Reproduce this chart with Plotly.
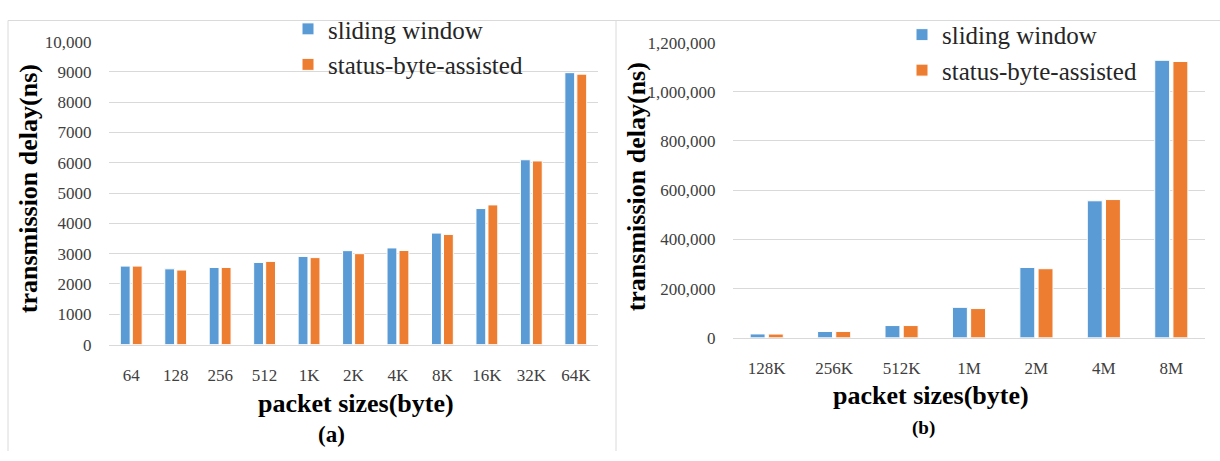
import plotly.graph_objects as go

# ---------------- data ----------------
cats_a = ["64", "128", "256", "512", "1K", "2K", "4K", "8K", "16K", "32K", "64K"]
sliding_a = [2590, 2500, 2545, 2710, 2910, 3100, 3190, 3680, 4490, 6100, 8975]
status_a = [2590, 2460, 2545, 2745, 2870, 3000, 3105, 3635, 4610, 6060, 8925]
yticks_a = [0, 1000, 2000, 3000, 4000, 5000, 6000, 7000, 8000, 9000, 10000]
yticktext_a = ["0", "1000", "2000", "3000", "4000", "5000", "6000", "7000", "8000", "9000", "10,000"]

cats_b = ["128K", "256K", "512K", "1M", "2M", "4M", "8M"]
sliding_b = [16000, 26000, 50000, 124000, 286000, 557000, 1128000]
status_b = [15500, 26000, 50000, 119000, 281000, 562000, 1123000]
yticks_b = [0, 200000, 400000, 600000, 800000, 1000000, 1200000]
yticktext_b = ["0", "200,000", "400,000", "600,000", "800,000", "1,000,000", "1,200,000"]

series_names = ["sliding window", "status-byte-assisted"]
colors = ["#5B9BD5", "#ED7D31"]

W, H = 1220, 461
FONT = "Liberation Serif"

def px(x):
    return x / W

def py(y):
    return 1 - y / H

fig = go.Figure()

for name, vals, col in zip(series_names, [sliding_a, status_a], colors):
    fig.add_trace(go.Bar(x=cats_a, y=vals, name=name, marker=dict(color=col, line=dict(color="white", width=1)),
                         xaxis="x", yaxis="y", legend="legend"))
for name, vals, col in zip(series_names, [sliding_b, status_b], colors):
    fig.add_trace(go.Bar(x=cats_b, y=vals, name=name, marker=dict(color=col, line=dict(color="white", width=1)),
                         xaxis="x2", yaxis="y2", legend="legend2"))

tickfont = dict(family=FONT, size=17, color="#404040")
grid = "#D9D9D9"

common_x = dict(type="category", showgrid=False, showline=True, linecolor=grid, linewidth=1,
                ticks="outside", ticklen=15, tickcolor="rgba(0,0,0,0)", tickfont=tickfont, zeroline=False)
common_y = dict(showgrid=True, gridcolor=grid, gridwidth=1, zeroline=False, showline=False,
                ticks="outside", ticklen=13, tickcolor="rgba(0,0,0,0)", tickfont=tickfont)

legend_font = dict(family=FONT, size=25, color="#262626")

fig.update_layout(
    width=W, height=H,
    margin=dict(l=0, r=0, t=0, b=0),
    paper_bgcolor="white", plot_bgcolor="white",
    font=dict(family=FONT),
    barmode="group", bargap=0.46, bargroupgap=0.18,
    xaxis=dict(domain=[px(109), px(598)], anchor="y", **common_x),
    yaxis=dict(domain=[py(350), py(34)], anchor="x", range=[0, 10000],
               tickvals=yticks_a, ticktext=yticktext_a, **common_y),
    xaxis2=dict(domain=[px(733), px(1205)], anchor="y2", **common_x),
    yaxis2=dict(domain=[py(343), py(35)], anchor="x2", range=[0, 1200000],
                tickvals=yticks_b, ticktext=yticktext_b, **common_y),
    legend=dict(x=px(288), y=py(-3), xanchor="left", yanchor="top", bgcolor="rgba(0,0,0,0)",
                font=legend_font, itemwidth=30, tracegroupgap=0),
    legend2=dict(x=px(902), y=py(3), xanchor="left", yanchor="top", bgcolor="rgba(0,0,0,0)",
                 font=legend_font, itemwidth=30, tracegroupgap=0),
    showlegend=True,
)

title_font = dict(family=FONT, size=26, color="black")
annots = [
    dict(text="<b>transmission delay(ns)</b>", x=px(28), y=py(188), textangle=-90, font=title_font),
    dict(text="<b>packet sizes(byte)</b>", x=px(356), y=py(411), font=title_font),
    dict(text="<b>(a)</b>", x=px(331), y=py(444), font=dict(family=FONT, size=23, color="black")),
    dict(text="<b>transmission delay(ns)</b>", x=px(636), y=py(186), textangle=-90, font=title_font),
    dict(text="<b>packet sizes(byte)</b>", x=px(931), y=py(403), font=title_font),
    dict(text="<b>(b)</b>", x=px(923), y=py(437), font=dict(family=FONT, size=19, color="black")),
]
for a in annots:
    fig.add_annotation(xref="paper", yref="paper", showarrow=False, xanchor="center", yanchor="middle", **a)

border = "#DADADA"
fig.add_shape(type="line", xref="paper", yref="paper", x0=px(8), x1=1, y0=py(12), y1=py(12),
              line=dict(color=border, width=1))
fig.add_shape(type="line", xref="paper", yref="paper", x0=px(8), x1=px(8), y0=py(12), y1=0,
              line=dict(color=border, width=1))
fig.add_shape(type="line", xref="paper", yref="paper", x0=px(616), x1=px(616), y0=py(12), y1=0,
              line=dict(color=border, width=1))

fig.write_html("out.html")
